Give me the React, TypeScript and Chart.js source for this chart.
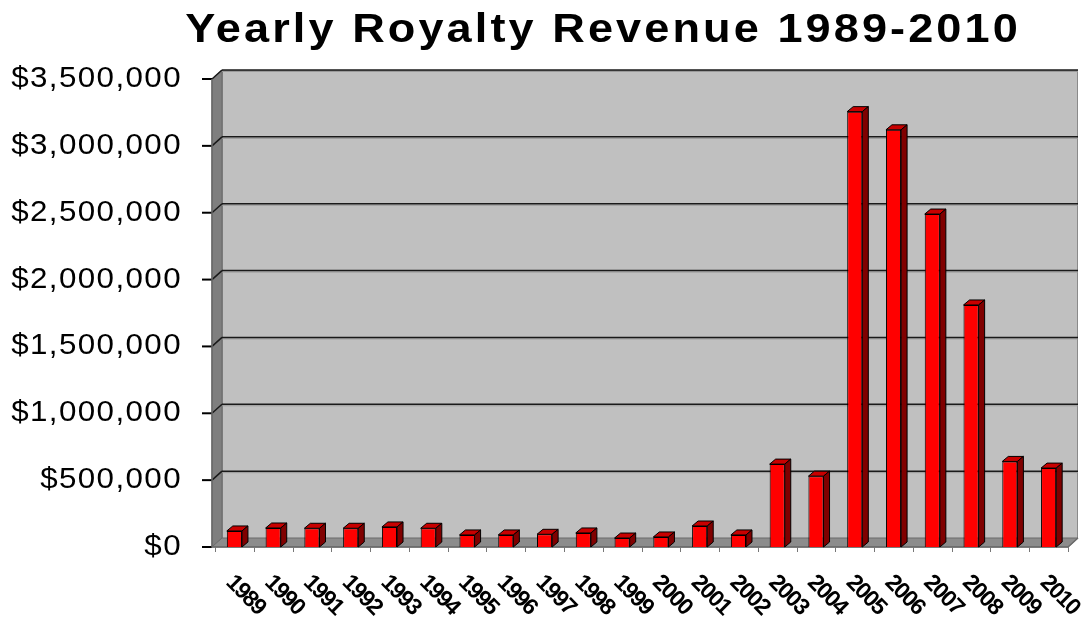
import React, { useEffect, useRef } from "react";
import { Chart, registerables } from "chart.js";

Chart.register(...registerables);

const years = [
  "1989", "1990", "1991", "1992", "1993", "1994", "1995", "1996", "1997", "1998", "1999",
  "2000", "2001", "2002", "2003", "2004", "2005", "2006", "2007", "2008", "2009", "2010",
];
const revenue = [
  120000, 142000, 140000, 140000, 150000, 140000, 90000, 90000, 95000, 105000, 67000,
  75000, 157000, 90000, 620000, 530000, 3256000, 3120000, 2490000, 1810000, 640000, 590000,
];
const yTicks = [0, 500000, 1000000, 1500000, 2000000, 2500000, 3000000, 3500000];
const yTickLabels = ["$0", "$500,000", "$1,000,000", "$1,500,000", "$2,000,000", "$2,500,000", "$3,000,000", "$3,500,000"];
const titleText = "Yearly Royalty Revenue 1989-2010";

const FONT = '"Liberation Sans", Arial, sans-serif';
const WX = 10; // wall depth x
const WY = 9; // wall depth y
const BX = 6; // bar depth x
const BY = 5; // bar depth y

function poly(ctx: CanvasRenderingContext2D, pts: number[][], fill: string, stroke?: string, lw = 1) {
  ctx.beginPath();
  ctx.moveTo(pts[0][0], pts[0][1]);
  for (let i = 1; i < pts.length; i++) ctx.lineTo(pts[i][0], pts[i][1]);
  ctx.closePath();
  ctx.fillStyle = fill;
  ctx.fill();
  if (stroke) {
    ctx.strokeStyle = stroke;
    ctx.lineWidth = lw;
    ctx.stroke();
  }
}

const excel3d = {
  id: "excel3d",
  beforeDatasetsDraw(chart: any) {
    const { ctx, chartArea, scales } = chart;
    const { left, right, top, bottom } = chartArea;
    const y = scales.y;
    const x = scales.x;
    const fl = left - 3;
    ctx.save();
    ctx.fillStyle = "#C0C0C0";
    ctx.fillRect(fl + WX, top - WY, right - fl, bottom - top);
    ctx.strokeStyle = "#8a8a8a";
    ctx.lineWidth = 1;
    ctx.strokeRect(fl + WX + 0.5, top - WY + 0.5, right - fl - 1, bottom - top);
    poly(ctx, [[fl, top], [fl + WX, top - WY], [fl + WX, bottom - WY], [fl, bottom]], "#7f7f7f", "#6a6a6a");
    poly(ctx, [[fl, bottom], [fl + WX, bottom - WY], [right + WX, bottom - WY], [right, bottom]], "#8c8c8c", "#6a6a6a");
    yTicks.forEach((v) => {
      const yy = y.getPixelForValue(v);
      if (v > 0) {
        ctx.strokeStyle = "#9a9a9a";
        ctx.lineWidth = 1;
        ctx.beginPath();
        ctx.moveTo(fl + WX, yy - WY + 1.5);
        ctx.lineTo(right + WX, yy - WY + 1.5);
        ctx.stroke();
        ctx.strokeStyle = "#1a1a1a";
        ctx.lineWidth = 1.5;
        ctx.beginPath();
        ctx.moveTo(fl + WX, yy - WY);
        ctx.lineTo(right + WX, yy - WY);
        ctx.stroke();
        ctx.beginPath();
        ctx.moveTo(fl, yy);
        ctx.lineTo(fl + WX, yy - WY);
        ctx.stroke();
      }
      ctx.strokeStyle = "#000";
      ctx.lineWidth = 2;
      ctx.beginPath();
      ctx.moveTo(fl - 10, yy);
      ctx.lineTo(fl, yy);
      ctx.stroke();
    });
    ctx.strokeStyle = "#6a6a6a";
    ctx.lineWidth = 1.5;
    ctx.beginPath();
    ctx.moveTo(fl, top);
    ctx.lineTo(fl, bottom);
    ctx.lineTo(right, bottom);
    ctx.lineTo(right + WX, bottom - WY);
    ctx.stroke();
    ctx.strokeStyle = "#777";
    ctx.lineWidth = 1;
    const step = x.getPixelForValue(1) - x.getPixelForValue(0);
    for (let i = 0; i <= years.length; i++) {
      const px = i < years.length ? x.getPixelForValue(i) - step / 2 : right;
      ctx.beginPath();
      ctx.moveTo(Math.round(px) + 0.5, bottom);
      ctx.lineTo(Math.round(px) + 0.5, bottom + 5);
      ctx.stroke();
    }
    ctx.restore();
  },
  afterDatasetsDraw(chart: any) {
    const { ctx } = chart;
    const meta = chart.getDatasetMeta(0);
    ctx.save();
    meta.data.forEach((bar: any) => {
      const p = bar.getProps(["x", "y", "base", "width"], true);
      const x1 = p.x - p.width / 2;
      const x2 = p.x + p.width / 2;
      const ty = p.y;
      const base = p.base;
      poly(ctx, [[x1, ty], [x1 + BX, ty - BY], [x2 + BX, ty - BY], [x2, ty]], "#C80000", "#000");
      poly(ctx, [[x2, ty], [x2 + BX, ty - BY], [x2 + BX, base - BY], [x2, base]], "#800000", "#000");
    });
    ctx.restore();
  },
  afterDraw(chart: any) {
    const { ctx, scales } = chart;
    const y = scales.y;
    const x = scales.x;
    ctx.save();
    ctx.fillStyle = "#000";
    // title
    ctx.save();
    ctx.font = `bold 41px ${FONT}`;
    (ctx as any).letterSpacing = "2.8px";
    ctx.translate(603, 42);
    ctx.scale(1.1, 1);
    ctx.textAlign = "center";
    ctx.textBaseline = "alphabetic";
    ctx.fillText(titleText, 0, 0);
    ctx.restore();
    // y labels
    yTicks.forEach((v, i) => {
      ctx.save();
      ctx.font = `29px ${FONT}`;
      (ctx as any).letterSpacing = "1.3px";
      ctx.translate(182, y.getPixelForValue(v));
      ctx.scale(1.08, 1);
      ctx.textAlign = "right";
      ctx.textBaseline = "middle";
      ctx.fillText(yTickLabels[i], 0, 0);
      ctx.restore();
    });
    // x labels
    years.forEach((lab, i) => {
      ctx.save();
      ctx.font = `bold 23px ${FONT}`;
      (ctx as any).letterSpacing = "-1.5px";
      ctx.translate(x.getPixelForValue(i) - 5, 579);
      ctx.rotate((45 * Math.PI) / 180);
      ctx.textAlign = "left";
      ctx.textBaseline = "middle";
      ctx.fillText(lab, 0, 0);
      ctx.restore();
    });
    ctx.restore();
  },
};

export default function App() {
  const ref = useRef<HTMLCanvasElement | null>(null);
  useEffect(() => {
    if (!ref.current) return;
    const chart = new Chart(ref.current, {
      type: "bar",
      data: {
        labels: years,
        datasets: [
          {
            label: "Royalty Revenue",
            data: revenue,
            backgroundColor: "#FF0000",
            borderColor: "#000000",
            borderWidth: 1,
            barPercentage: 0.39,
            categoryPercentage: 1,
          },
        ],
      },
      options: {
        animation: false,
        responsive: false,
        devicePixelRatio: 1,
        layout: { padding: { left: 215, right: 16, top: 79, bottom: 70 } },
        plugins: { legend: { display: false }, title: { display: false }, tooltip: { enabled: false } },
        scales: {
          x: { display: false },
          y: { display: false, min: 0, max: 3500000 },
        },
      },
      plugins: [excel3d],
    });
    return () => chart.destroy();
  }, []);
  return (
    <div style={{ position: "absolute", left: 0, top: 0, width: 1084, height: 617, background: "#fff" }}>
      <canvas ref={ref} width={1084} height={617} />
    </div>
  );
}
